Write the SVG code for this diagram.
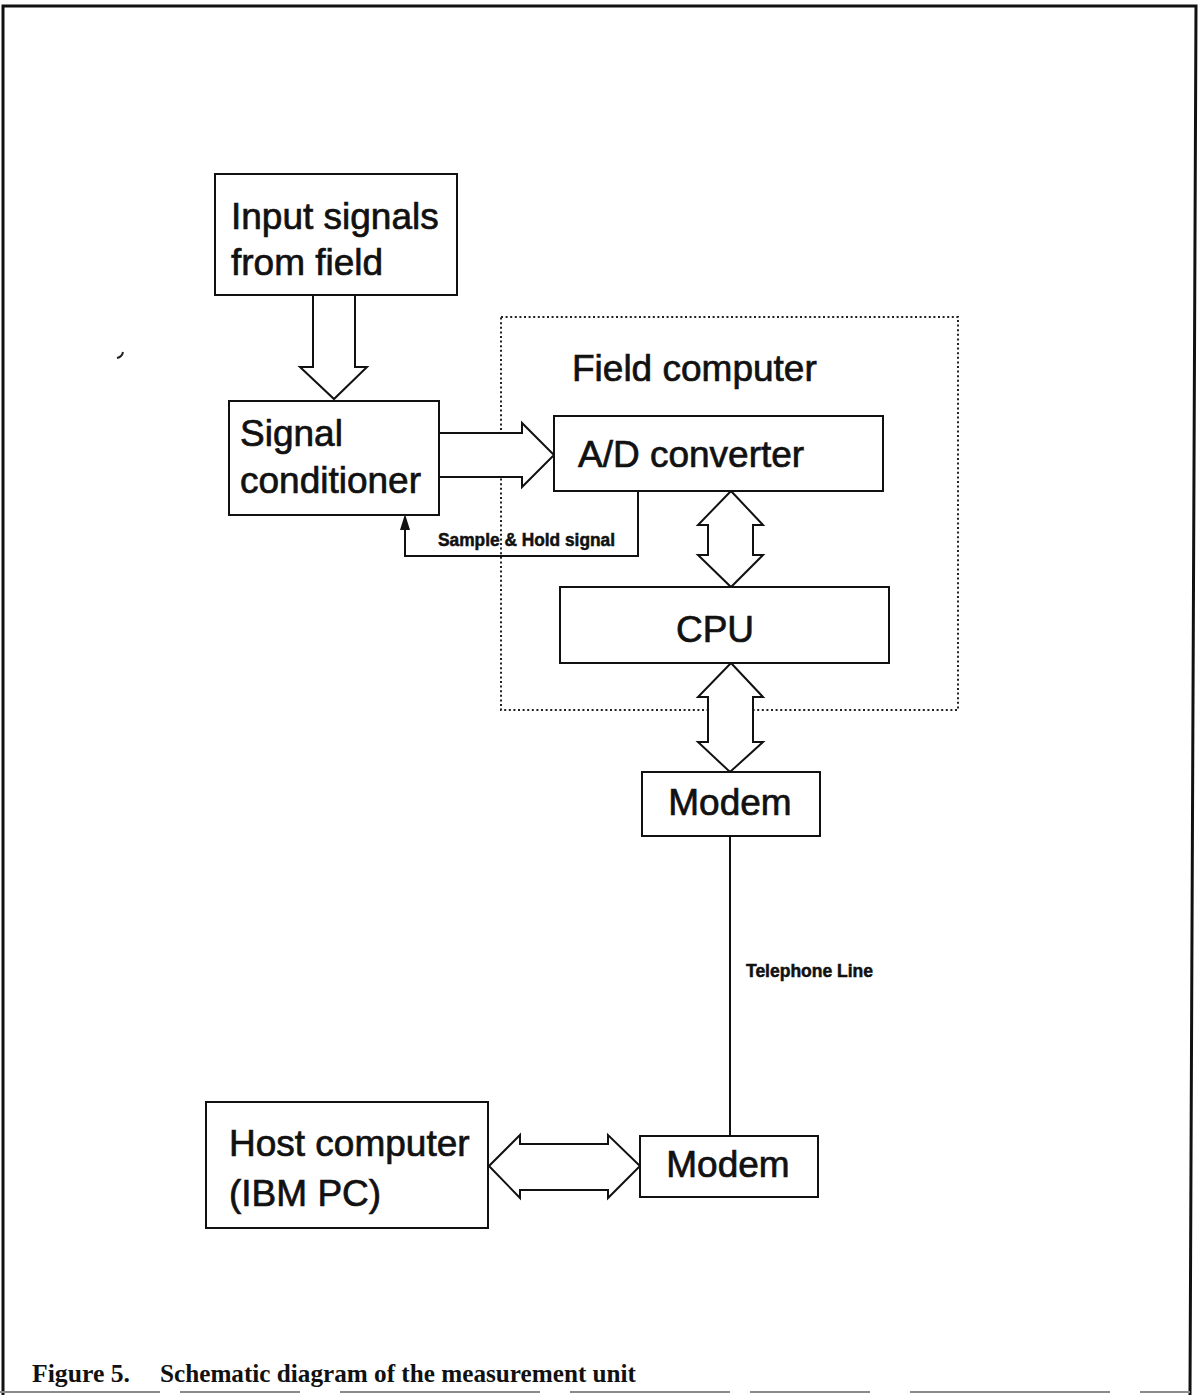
<svg xmlns="http://www.w3.org/2000/svg" width="1202" height="1395" viewBox="0 0 1202 1395">
  <style>
    .box { fill: #fff; stroke: #111; stroke-width: 2; }
    .bus { fill: #fff; stroke: #111; stroke-width: 2; stroke-linejoin: miter; }
    .wire { fill: none; stroke: #111; stroke-width: 2; }
    .frame { fill: none; stroke: #111; stroke-width: 3; }
    .group { fill: none; stroke: #222; stroke-width: 2; stroke-dasharray: 2 2.6; }
    .lbl { font-family: "Liberation Sans", Arial, Helvetica, sans-serif; font-size: 37px; fill: #111; stroke: #111; stroke-width: 0.7; }
    .small { font-family: "Liberation Sans", Arial, Helvetica, sans-serif; font-size: 17.5px; font-weight: bold; fill: #111; stroke: #111; stroke-width: 0.5; }
    .cap { font-family: "Liberation Serif", "Times New Roman", serif; font-size: 25px; font-weight: bold; fill: #111; }
  </style>

  <rect width="1202" height="1395" fill="#fff"/>

  <!-- page frame -->
  <g id="frame">
    <path class="frame" d="M3,1395 L3,6 L1196,6 L1190,1395"/>
    <line x1="0" y1="1392" x2="1190" y2="1392" stroke="#8a8a8a" stroke-width="2" stroke-dasharray="160 20 120 40 200 30"/>
    <path d="M117,358 Q122,357 123,352" fill="none" stroke="#222" stroke-width="2"/>
  </g>

  <!-- field computer enclosure -->
  <g id="field-computer">
    <rect class="group" x="501" y="317" width="457" height="393"/>
    <text class="lbl" x="572" y="381">Field computer</text>
  </g>

  <!-- connectors -->
  <g id="connectors">
    <!-- input signals to signal conditioner -->
    <polygon class="bus" points="313,295 313,367 300,367 334,399 367,367 355,367 355,295"/>
    <!-- signal conditioner to A/D converter -->
    <polygon class="bus" points="439,433 522,433 522,423 554,455 522,487 522,477 439,477"/>
    <!-- A/D converter <-> CPU -->
    <polygon class="bus" points="731,491 763,525 753,525 753,555 763,555 731,587 698,555 708,555 708,525 698,525"/>
    <!-- CPU <-> modem -->
    <polygon class="bus" points="731,663 763,697 753,697 753,742 763,742 730,772 698,742 708,742 708,697 698,697"/>
    <!-- sample & hold feedback -->
    <polyline class="wire" points="638,491 638,556 405,556 405,528"/>
    <polygon points="405,514 400,530 410,530" fill="#111"/>
    <text class="small" x="438" y="546" textLength="177" lengthAdjust="spacingAndGlyphs">Sample &amp; Hold signal</text>
    <!-- telephone line -->
    <line class="wire" x1="730" y1="836" x2="730" y2="1136"/>
    <text class="small" x="746" y="977" textLength="127" lengthAdjust="spacingAndGlyphs">Telephone Line</text>
    <!-- host <-> modem -->
    <polygon class="bus" points="489,1166 520,1135 520,1144 608,1144 608,1135 640,1166 608,1198 608,1190 520,1190 520,1198"/>
  </g>

  <g id="input-signals">
    <rect class="box" x="215" y="174" width="242" height="121"/>
    <text class="lbl" x="231" y="229">Input signals</text>
    <text class="lbl" x="231" y="275">from field</text>
  </g>

  <g id="signal-conditioner">
    <rect class="box" x="229" y="401" width="210" height="114"/>
    <text class="lbl" x="240" y="446">Signal</text>
    <text class="lbl" x="240" y="493">conditioner</text>
  </g>

  <g id="ad-converter">
    <rect class="box" x="554" y="416" width="329" height="75"/>
    <text class="lbl" x="578" y="467">A/D converter</text>
  </g>

  <g id="cpu">
    <rect class="box" x="560" y="587" width="329" height="76"/>
    <text class="lbl" x="715" y="642" text-anchor="middle">CPU</text>
  </g>

  <g id="modem-field">
    <rect class="box" x="642" y="772" width="178" height="64"/>
    <text class="lbl" x="730" y="815" text-anchor="middle">Modem</text>
  </g>

  <g id="modem-host">
    <rect class="box" x="640" y="1136" width="178" height="61"/>
    <text class="lbl" x="728" y="1177" text-anchor="middle">Modem</text>
  </g>

  <g id="host-computer">
    <rect class="box" x="206" y="1102" width="282" height="126"/>
    <text class="lbl" x="229" y="1156">Host computer</text>
    <text class="lbl" x="229" y="1206">(IBM PC)</text>
  </g>

  <text class="cap" x="32" y="1382" textLength="98" lengthAdjust="spacingAndGlyphs">Figure 5.</text>
  <text class="cap" x="160" y="1382" textLength="476" lengthAdjust="spacingAndGlyphs">Schematic diagram of the measurement unit</text>
</svg>
